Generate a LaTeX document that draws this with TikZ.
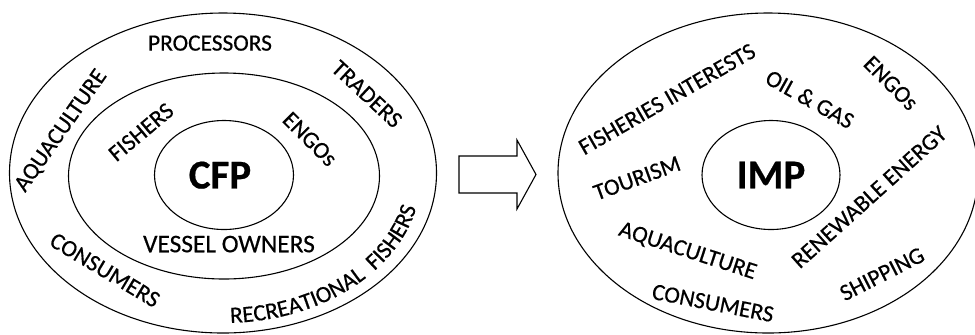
\documentclass[tikz,border=0pt]{standalone}
\usepackage{fontspec}
\setmainfont{Carlito}[FakeBold=0.5]
\usetikzlibrary{shapes.geometric,decorations.text}
\tikzset{
  ring/.style={draw, ellipse, line width=0.55pt, inner sep=0pt},
  lbl/.style={font=\fontsize{11.7}{11.7}\selectfont, inner sep=0pt, text depth=0pt},
  core/.style={font=\fontsize{20.5}{20.5}\selectfont\bfseries, inner sep=0pt, text depth=0pt},
  shift arrow/.style={draw, line width=0.55pt, line join=miter, fill=white},
}
\begin{document}
\begin{tikzpicture}[x=0.5pt,y=-0.5pt]
\fill[white] (0,0) rectangle (975,334);
\useasboundingbox (0,0) rectangle (975,334);

% ---- Common Fisheries Policy: three nested rings ----
\node[ring, minimum width=213.5pt, minimum height=160pt] (cfpouter) at (223,173) {};
\node[ring, minimum width=155.5pt, minimum height=103pt] (cfpmid) at (224,176) {};
\node[ring, minimum width=69.5pt, minimum height=54.5pt] (cfpcore) at (224,175) {};
\node[core] (cfp) at (220,175) {CFP};

\node[lbl] (processors) at (210,43) {PROCESSORS};
\node[lbl, rotate=-43] (traders) at (367,94) {TRADERS};
\node[lbl, rotate=55] (aquaL) at (60,130) {AQUACULTURE};
\node[lbl, rotate=40] (fishers) at (141,132) {FISHERS};
\node[lbl, rotate=-45] (engosL) at (310,139) {ENGOs};
\node[lbl, font=\fontsize{12.7}{12.7}\selectfont] (owners) at (229,244) {VESSEL OWNERS};
\node[lbl, rotate=-31] (consumersL) at (105,270) {CONSUMERS};
% label bent along the band between the middle and outer rings
\path[decorate, decoration={text along path, text align=center,
      text={|\fontsize{11.7}{11.7}\selectfont|RECREATIONAL{ }{ }FISHERS}}]
  plot[domain=90:10, samples=50] ({224+197*cos(\x)},{176+147*sin(\x)});

% ---- transition arrow ----
\draw[shift arrow] (459,156) -- (517,156) -- (517,140) -- (536,174.5)
  -- (517,209) -- (517,193) -- (459,193) -- cycle;

% ---- Integrated Maritime Policy ----
\node[ring, minimum width=210pt, minimum height=160pt] (impouter) at (768,173) {};
\node[ring, minimum width=69pt, minimum height=54.5pt] (impcore) at (771,175) {};
\node[core] (imp) at (771,175) {IMP};

\node[lbl, rotate=30] (fishint) at (667,99) {FISHERIES INTERESTS};
\node[lbl, rotate=-29] (oilgas) at (810,99) {OIL \& GAS};
\node[lbl, rotate=-45] (engosR) at (891,83) {ENGOs};
\node[lbl, rotate=20] (tourism) at (637,178) {TOURISM};
\node[lbl, rotate=42] (renew) at (869,197) {RENEWABLE ENERGY};
\node[lbl, rotate=-18] (aquaR) at (688,250) {AQUACULTURE};
\node[lbl, rotate=-11] (consumersR) at (713,303) {CONSUMERS};
\node[lbl, rotate=27] (shipping) at (882,274) {SHIPPING};
\end{tikzpicture}
\end{document}
